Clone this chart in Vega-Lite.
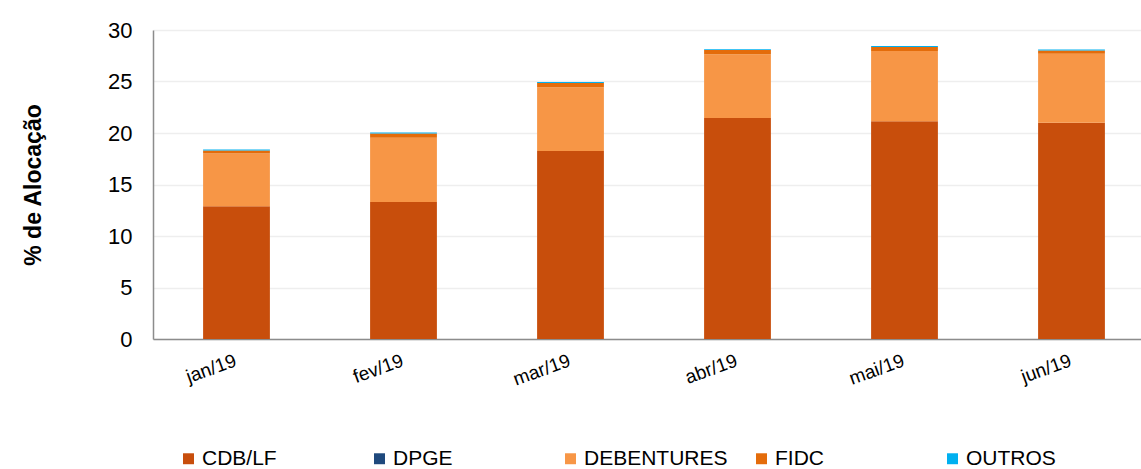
{
  "$schema": "https://vega.github.io/schema/vega-lite/v6.json",
  "width": 1002,
  "height": 309,
  "autosize": {"type": "none"},
  "padding": {"left": 153, "top": 30, "right": 0, "bottom": 130},
  "background": "white",
  "config": {
    "view": {"stroke": null},
    "font": "Liberation Sans"
  },
  "data": {
    "values": [
      {"mes": "jan/19", "tipo": "CDB/LF", "ord": 1, "valor": 12.9},
      {"mes": "jan/19", "tipo": "DPGE", "ord": 2, "valor": 0},
      {"mes": "jan/19", "tipo": "DEBENTURES", "ord": 3, "valor": 5.1},
      {"mes": "jan/19", "tipo": "FIDC", "ord": 4, "valor": 0.3},
      {"mes": "jan/19", "tipo": "OUTROS", "ord": 5, "valor": 0.1},
      {"mes": "fev/19", "tipo": "CDB/LF", "ord": 1, "valor": 13.3},
      {"mes": "fev/19", "tipo": "DPGE", "ord": 2, "valor": 0},
      {"mes": "fev/19", "tipo": "DEBENTURES", "ord": 3, "valor": 6.25},
      {"mes": "fev/19", "tipo": "FIDC", "ord": 4, "valor": 0.4},
      {"mes": "fev/19", "tipo": "OUTROS", "ord": 5, "valor": 0.1},
      {"mes": "mar/19", "tipo": "CDB/LF", "ord": 1, "valor": 18.25},
      {"mes": "mar/19", "tipo": "DPGE", "ord": 2, "valor": 0},
      {"mes": "mar/19", "tipo": "DEBENTURES", "ord": 3, "valor": 6.2},
      {"mes": "mar/19", "tipo": "FIDC", "ord": 4, "valor": 0.4},
      {"mes": "mar/19", "tipo": "OUTROS", "ord": 5, "valor": 0.1},
      {"mes": "abr/19", "tipo": "CDB/LF", "ord": 1, "valor": 21.45},
      {"mes": "abr/19", "tipo": "DPGE", "ord": 2, "valor": 0},
      {"mes": "abr/19", "tipo": "DEBENTURES", "ord": 3, "valor": 6.2},
      {"mes": "abr/19", "tipo": "FIDC", "ord": 4, "valor": 0.4},
      {"mes": "abr/19", "tipo": "OUTROS", "ord": 5, "valor": 0.08},
      {"mes": "mai/19", "tipo": "CDB/LF", "ord": 1, "valor": 21.15},
      {"mes": "mai/19", "tipo": "DPGE", "ord": 2, "valor": 0},
      {"mes": "mai/19", "tipo": "DEBENTURES", "ord": 3, "valor": 6.8},
      {"mes": "mai/19", "tipo": "FIDC", "ord": 4, "valor": 0.4},
      {"mes": "mai/19", "tipo": "OUTROS", "ord": 5, "valor": 0.1},
      {"mes": "jun/19", "tipo": "CDB/LF", "ord": 1, "valor": 21.0},
      {"mes": "jun/19", "tipo": "DPGE", "ord": 2, "valor": 0},
      {"mes": "jun/19", "tipo": "DEBENTURES", "ord": 3, "valor": 6.7},
      {"mes": "jun/19", "tipo": "FIDC", "ord": 4, "valor": 0.3},
      {"mes": "jun/19", "tipo": "OUTROS", "ord": 5, "valor": 0.1}
    ]
  },
  "mark": {"type": "bar"},
  "encoding": {
    "x": {
      "field": "mes",
      "type": "nominal",
      "sort": ["jan/19", "fev/19", "mar/19", "abr/19", "mai/19", "jun/19"],
      "scale": {"paddingInner": 0.6, "paddingOuter": 0.3},
      "axis": {
        "title": null,
        "labelAngle": -20,
        "labelAlign": "right",
        "labelBaseline": "top",
        "labelFontSize": 19,
        "labelColor": "#000000",
        "labelPadding": 12,
        "labelOffset": -4,
        "ticks": false,
        "domainColor": "#8c8c8c",
        "domainWidth": 1.5,
        "grid": false
      }
    },
    "y": {
      "field": "valor",
      "type": "quantitative",
      "stack": "zero",
      "scale": {"domain": [0, 30], "nice": false},
      "axis": {
        "title": "% de Alocação",
        "titleFontSize": 23,
        "titleFontWeight": "bold",
        "titleColor": "#000000",
        "titlePadding": 62,
        "values": [0, 5, 10, 15, 20, 25, 30],
        "labelFontSize": 22,
        "labelColor": "#000000",
        "labelPadding": 21,
        "ticks": false,
        "domainColor": "#8c8c8c",
        "domainWidth": 1.5,
        "gridColor": "#eeeeee",
        "gridWidth": 1.5
      }
    },
    "color": {
      "field": "tipo",
      "type": "nominal",
      "scale": {
        "domain": ["CDB/LF", "DPGE", "DEBENTURES", "FIDC", "OUTROS"],
        "range": ["#C84E0C", "#1F497D", "#F79646", "#E46C0A", "#00B0F0"]
      },
      "legend": {
        "title": null,
        "orient": "none",
        "legendX": 25,
        "legendY": 418,
        "direction": "horizontal",
        "columns": 5,
        "gridAlign": "all",
        "columnPadding": 23,
        "symbolType": "square",
        "symbolSize": 120,
        "symbolStrokeWidth": 0,
        "labelFontSize": 21,
        "labelColor": "#000000",
        "labelOffset": 3,
        "padding": 0
      }
    },
    "order": {"field": "ord", "type": "quantitative"}
  }
}
